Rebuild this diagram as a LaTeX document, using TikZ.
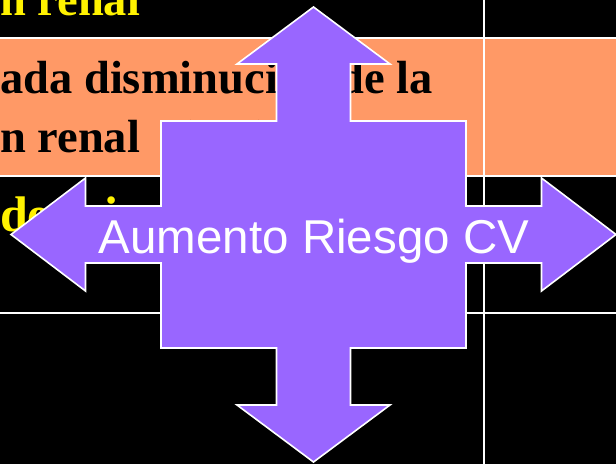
\documentclass[tikz,border=0pt]{standalone}
\usepackage{fontspec}
\setmainfont{Liberation Serif}
\newfontfamily\arialfont{Liberation Sans}
\definecolor{bandorange}{HTML}{FF9966}
\definecolor{crosspurple}{HTML}{9966FF}

\begin{document}
\begin{tikzpicture}[x=1pt, y=-1pt,
        slidetext/.style={anchor=base west, inner sep=0pt, font=\fontsize{46.5}{56}\selectfont\bfseries},
        gridline/.style={draw=white, line width=2pt}]
        \fill[black] (0,0) rectangle (616,464);
        \useasboundingbox (0,0) rectangle (616,464);
        \clip (0,0) rectangle (616,464);

        % table behind the cross
        \fill[bandorange] (0,39) rectangle (616,175);
        \draw[gridline] (0,38) -- (616,38);
        \draw[gridline] (0,176) -- (616,176);
        \draw[gridline] (0,313) -- (616,313);
        \draw[gridline] (484,0) -- (484,464);

        \node[slidetext, text=yellow] (renaltop) at (0,15) {n renal};
        \node[slidetext] (declinea) at (0,93) {ada disminución de la};
        \node[slidetext] (declineb) at (0,152) {n renal};
        \node[slidetext] (fg) at (177,152) {(FG)};
        \node[slidetext, text=yellow, font=\fontsize{50}{60}\selectfont\bfseries] (micro) at (0,231) {de mi};

        % four-way arrow
        \filldraw[fill=crosspurple, draw=white, line width=1.6pt, shift={(313.5,234.5)}]
            (0,-227.5) -- (76.5,-170.5) -- (37,-170.5) -- (37,-113.5)
            -- (152.5,-113.5) -- (152.5,-28.5) -- (228,-28.5) -- (228,-56.5)
            -- (302.5,0) -- (228,56.5) -- (228,28.5) -- (152.5,28.5)
            -- (152.5,113.5) -- (37,113.5) -- (37,170.5) -- (76.5,170.5)
            -- (0,227.5) -- (-76.5,170.5) -- (-37,170.5) -- (-37,113.5)
            -- (-152.5,113.5) -- (-152.5,28.5) -- (-228,28.5) -- (-228,56.5)
            -- (-302.5,0) -- (-228,-56.5) -- (-228,-28.5) -- (-152.5,-28.5)
            -- (-152.5,-113.5) -- (-37,-113.5) -- (-37,-170.5) -- (-76.5,-170.5)
            -- cycle;
        \node[anchor=base, inner sep=0pt, text=white, font=\arialfont\fontsize{47.5}{57}\selectfont] (risk) at (314,253) {Aumento Riesgo CV};
    \end{tikzpicture}
\end{document}
